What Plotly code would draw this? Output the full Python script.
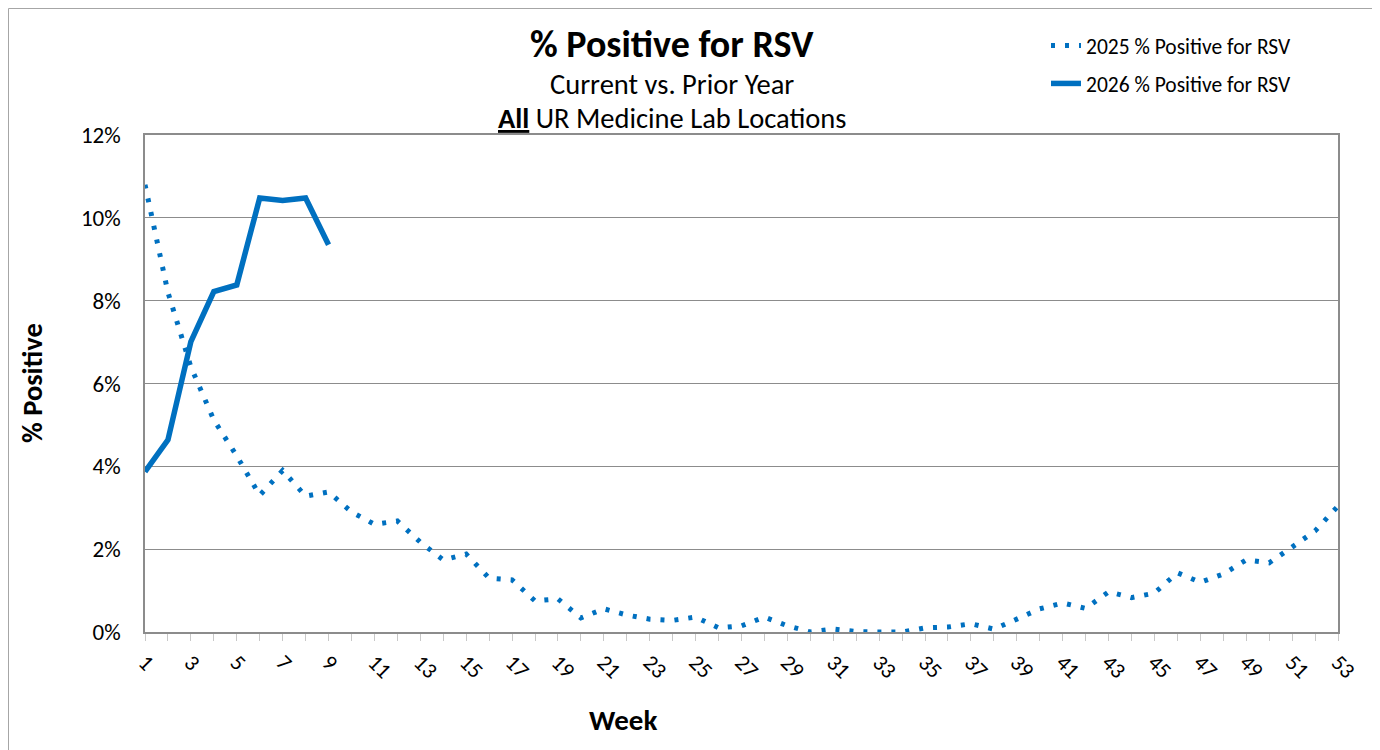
import plotly.graph_objects as go

weeks = list(range(1, 54))
tick_labels = [str(w) if w % 2 == 1 else "" for w in weeks]

pos_2025 = [10.8, 8.2, 6.4, 5.12, 4.25, 3.3, 3.9, 3.28, 3.38, 2.9,
            2.6, 2.68, 2.17, 1.74, 1.88, 1.30, 1.26, 0.75, 0.80, 0.34,
            0.56, 0.41, 0.31, 0.28, 0.36, 0.10, 0.15, 0.36, 0.15, 0.0,
            0.07, 0.01, 0.0, 0.0, 0.10, 0.12, 0.20, 0.07, 0.31, 0.56,
            0.70, 0.57, 0.97, 0.83, 0.94, 1.43, 1.20, 1.40, 1.74, 1.67,
            2.05, 2.44, 3.04]
weeks_2026 = list(range(1, 10))
pos_2026 = [3.87, 4.64, 7.01, 8.22, 8.38, 10.48, 10.42, 10.48, 9.35]

name_2025 = "2025 % Positive for RSV"
name_2026 = "2026 % Positive for RSV"

FONT = "Calibri, Carlito, Lato, 'Open Sans', sans-serif"
BLUE = "#0070C0"
GRID = "#8c8c8c"

fig = go.Figure()
fig.add_trace(go.Scatter(
    x=weeks, y=[v / 100 for v in pos_2025], mode="lines", name=name_2025,
    legendgroup="a",
    line=dict(color=BLUE, width=5, dash="4px,10px"),
))
fig.add_trace(go.Scatter(
    x=weeks_2026, y=[v / 100 for v in pos_2026], mode="lines", name=name_2026,
    legendgroup="b",
    line=dict(color=BLUE, width=5.5),
))

# page has an 8px body margin; work in screen coordinates and convert
OFF = 8
W, H = 1372, 742
L, R, T, B = 145 - OFF, 42, 135 - OFF, 118
pw, ph = W - L - R, H - T - B

def px_x(x):
    return (x - OFF - L) / pw

def px_y(y):
    return (H - B - (y - OFF)) / ph

fig.update_layout(
    width=W, height=H,
    margin=dict(l=L, r=R, t=T, b=B),
    paper_bgcolor="white", plot_bgcolor="white",
    font=dict(family=FONT, color="black"),
    showlegend=True,
    legend=dict(
        x=px_x(1046), y=px_y(25), xanchor="left", yanchor="top",
        font=dict(size=21.5, family=FONT), tracegroupgap=7,
        bgcolor="rgba(0,0,0,0)", itemwidth=30,
    ),
    xaxis=dict(
        range=[1, 53], tickmode="array", tickvals=weeks, ticktext=tick_labels,
        tickangle=45, tickfont=dict(size=22, family=FONT),
        ticks="outside", ticklen=7, tickcolor="#c8c8c8",
        showgrid=False, showline=True, linecolor=GRID, linewidth=1.5,
        mirror=True, zeroline=False,
    ),
    yaxis=dict(
        range=[0, 0.12], dtick=0.02, tickformat=".0%",
        tickfont=dict(size=23, family=FONT), ticklabelstandoff=18,
        showgrid=True, gridcolor=GRID, gridwidth=1,
        showline=True, linecolor=GRID, linewidth=1.5, mirror=True,
        zeroline=False, ticks="", ticklen=0,
    ),
    annotations=[
        dict(text="<b>% Positive for RSV</b>", xref="paper", yref="paper",
             x=px_x(672), y=px_y(44), xanchor="center", yanchor="middle",
             showarrow=False, font=dict(size=38, family=FONT)),
        dict(text="Current vs. Prior Year", xref="paper", yref="paper",
             x=px_x(672), y=px_y(84), xanchor="center", yanchor="middle",
             showarrow=False, font=dict(size=28.5, family=FONT)),
        dict(text="<u><b>All</b></u> UR Medicine Lab Locations", xref="paper", yref="paper",
             x=px_x(672), y=px_y(118), xanchor="center", yanchor="middle",
             showarrow=False, font=dict(size=28.5, family=FONT)),
        dict(text="<b>% Positive</b>", xref="paper", yref="paper",
             x=px_x(32), y=px_y(383), xanchor="center", yanchor="middle",
             textangle=-90, showarrow=False, font=dict(size=28.5, family=FONT)),
        dict(text="<b>Week</b>", xref="paper", yref="paper",
             x=px_x(623), y=px_y(720), xanchor="center", yanchor="middle",
             showarrow=False, font=dict(size=29, family=FONT)),
    ],
    shapes=[
        dict(type="rect", xref="paper", yref="paper",
             x0=px_x(8.5), x1=px_x(1377), y0=px_y(770), y1=px_y(8.5),
             line=dict(color="#a6a6a6", width=1), fillcolor="rgba(0,0,0,0)",
             layer="below"),
    ],
)

fig.write_html("out.html")
